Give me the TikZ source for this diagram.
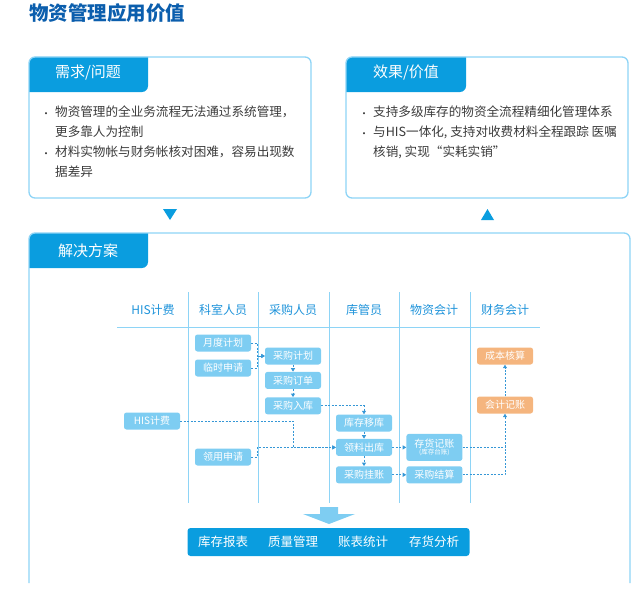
\documentclass[tikz,border=0pt]{standalone}
\usepackage{fontspec}
\setmainfont{Noto Sans CJK SC}
\usepackage{xcolor}
\usetikzlibrary{arrows.meta, positioning}

\definecolor{titleblue}{HTML}{0B5EAD}
\definecolor{tabblue}{HTML}{0A9DDF}
\definecolor{frameblue}{HTML}{8ED4F6}
\definecolor{nodeblue}{HTML}{7ECDF2}
\definecolor{nodeorange}{HTML}{F5B57E}
\definecolor{linkblue}{HTML}{3597D6}
\definecolor{headblue}{HTML}{1E93DA}
\definecolor{textgray}{HTML}{3A3A3A}

\begin{document}
\begin{tikzpicture}[
  x=1pt, y=-1pt,
  panel/.style={draw=frameblue, line width=1.3pt, rounded corners=6pt},
  tabtext/.style={text=white, font=\fontsize{15}{15}\selectfont},
  item/.style={anchor=north west, align=left, inner sep=0pt, text=textgray,
    font=\fontsize{12.6}{20}\selectfont},
  dot/.style={inner sep=0pt, text=textgray, font=\fontsize{10}{10}\selectfont},
  lane/.style={text=headblue, font=\fontsize{12}{12}\selectfont},
  grid/.style={draw=frameblue, line width=0.8pt},
  task/.style={
    rectangle, rounded corners=2.5pt, fill=nodeblue, text=white,
    minimum width=56pt, minimum height=17pt, inner sep=0pt,
    font=\fontsize{10}{10}\selectfont
  },
  acct/.style={task, fill=nodeorange},
  link/.style={draw=linkblue, line width=0.8pt, dash pattern=on 2pt off 1.5pt,
    -{Triangle[length=3.5pt, width=4pt]}},
  plainlink/.style={draw=linkblue, line width=0.8pt, dash pattern=on 2pt off 1.5pt},
  outtext/.style={text=white, font=\fontsize{12.5}{12.5}\selectfont}
]
\useasboundingbox (0,0) rectangle (632,594);

% title
\node[anchor=west, inner sep=0pt, text=titleblue, font=\fontsize{19.5}{19.5}\selectfont\bfseries]
  (title) at (29,13) {物资管理应用价值};

% need / problem panel
\begin{scope}
  \clip[rounded corners=6pt] (29,57) rectangle (311,198);
  \fill[tabblue, rounded corners=6pt] (20,48) rectangle (148,92);
\end{scope}
\draw[panel] (29,57) rectangle (311,198);
\node[tabtext] (needhd) at (88,73) {需求/问题};
\node[dot] (nb1) at (46,115) {•};
\node[item] (need1) at (55,106) {物资管理的全业务流程无法通过系统管理，\\更多靠人为控制};
\node[dot] (nb2) at (46,155) {•};
\node[item] (need2) at (55,146) {材料实物帐与财务帐核对困难，容易出现数\\据差异};

% effect / value panel
\begin{scope}
  \clip[rounded corners=6pt] (346,57) rectangle (628,198);
  \fill[tabblue, rounded corners=6pt] (337,48) rectangle (466,92);
\end{scope}
\draw[panel] (346,57) rectangle (628,198);
\node[tabtext] (valuehd) at (406,73) {效果/价值};
\node[dot] (vb1) at (364,115) {•};
\node[item] (value1) at (373,106) {支持多级库存的物资全流程精细化管理体系};
\node[dot] (vb2) at (364,135) {•};
\node[item] (value2) at (373,126) {与HIS一体化, 支持对收费材料全程跟踪 医嘱\\核销, 实现“实耗实销”};

% triangles between panels
\fill[tabblue] (163,209) -- (177,209) -- (170,220) -- cycle;
\fill[tabblue] (481,220) -- (494,220) -- (487.5,209) -- cycle;

% solution panel (open at the bottom)
\begin{scope}
  \clip[rounded corners=6pt] (29,233) rectangle (630,610);
  \fill[tabblue, rounded corners=6pt] (20,224) rectangle (148,268);
\end{scope}
\draw[panel] (29,583) -- (29,233) -- (630,233) -- (630,583);
\node[tabtext] (solvehd) at (88,251) {解决方案};

% swim lanes
\draw[grid] (117,327) -- (540,327);
\draw[grid] (188,292) -- (188,503);
\draw[grid] (258,292) -- (258,503);
\draw[grid] (329,292) -- (329,503);
\draw[grid] (399,292) -- (399,503);
\draw[grid] (470,292) -- (470,503);

\node[lane] (lhis) at (153,310) {HIS计费};
\node[lane] (ldept) at (223,310) {科室人员};
\node[lane] (lbuy) at (293,310) {采购人员};
\node[lane] (lstore) at (364,310) {库管员};
\node[lane] (lmat) at (434,310) {物资会计};
\node[lane] (lfin) at (505,310) {财务会计};

% tasks
\node[task] (yd) at (223,343) {月度计划};
\node[task] (ls) at (223,368) {临时申请};
\node[task] (ly) at (223,457) {领用申请};
\node[task] (his) at (152,421) {HIS计费};

\node[task] (cg) at (293,356) {采购计划};
\node[task, below=7pt of cg] (cd) {采购订单};
\node[task, below=8pt of cd] (cr) {采购入库};

\node[task] (yk) at (364,423) {库存移库};
\node[task, below=7pt of yk] (lc) {领料出库};
\node[task, below=10pt of lc] (gz) {采购挂账};

\node[task, minimum height=27pt, align=center, right=14pt of lc] (ch)
  {存货记账\\[-3pt]{\fontsize{6.5}{6.5}\selectfont (库存台账)}};
\node[task, right=14pt of gz] (js) {采购结算};

\node[acct] (cb) at (505,356) {成本核算};
\node[acct] (jz) at (505,405) {会计记账};

% connectors
\draw[link] (yd.east) -- ++(6,0) |- (cg.west);
\draw[link] (ls.east) -- ++(6,0) |- (cg.west);
\draw[link] (cg) -- (cd);
\draw[link] (cd) -- (cr);
\draw[link] (cr.east) -| (yk.north);
\draw[link] (his.east) -- (his.east -| cd) |- (lc.west);
\draw[link] (ly.east) -- ++(6,0) |- (lc.west);
\draw[link] (yk) -- (lc);
\draw[link] (lc) -- (gz);
\draw[link] (lc) -- (ch);
\draw[link] (gz) -- (js);
\draw[plainlink] (ch.east) -- (ch.east -| jz);
\draw[link] (js.east) -| (jz.south);
\draw[link] (jz) -- (cb);

% output arrow and bar
\fill[nodeblue] (320,507) -- (338,507) -- (338,514) -- (355,514) -- (329,524)
  -- (303,514) -- (320,514) -- cycle;
\node[rectangle, rounded corners=3pt, fill=tabblue, minimum width=282pt,
  minimum height=28pt, inner sep=0pt] (out) at (328.5,542) {};
\node[outtext] (o1) at (223,542) {库存报表};
\node[outtext] (o2) at (293,542) {质量管理};
\node[outtext] (o3) at (363,542) {账表统计};
\node[outtext] (o4) at (434,542) {存货分析};

\end{tikzpicture}
\end{document}
